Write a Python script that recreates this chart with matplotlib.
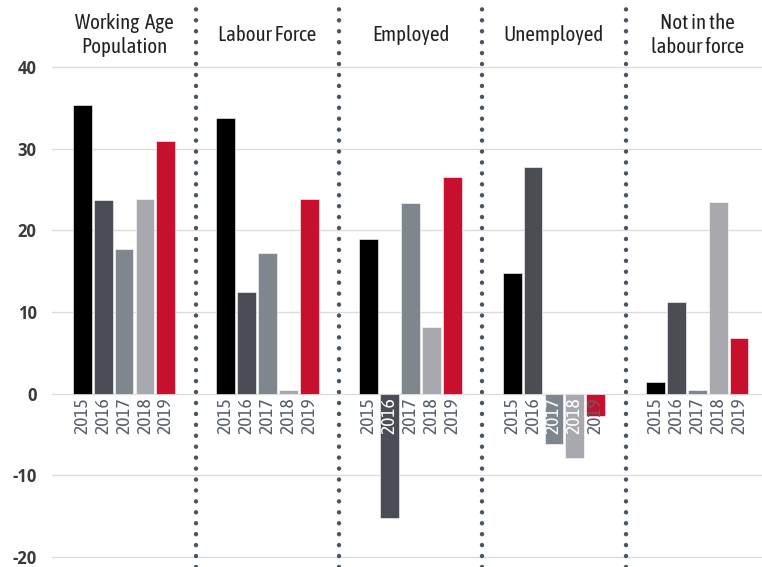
import matplotlib
matplotlib.use("Agg")
import matplotlib.pyplot as plt
from matplotlib import font_manager
import numpy as np

# data
groups = ['Working  Age\nPopulation', 'Labour Force', 'Employed', 'Unemployed', 'Not in the\nlabour force']
years = ['2015', '2016', '2017', '2018', '2019']
working_age = [35.3, 23.7, 17.7, 23.9, 31.0]
labour_force = [33.8, 12.5, 17.2, 0.5, 23.9]
employed = [18.9, -15.2, 23.3, 8.15, 26.5]
unemployed = [14.8, 27.7, -6.2, -7.8, -2.7]
not_in_lf = [1.5, 11.2, 0.45, 23.5, 6.85]
series = [working_age, labour_force, employed, unemployed, not_in_lf]

colors = ['#000000', '#4a4d55', '#80868e', '#a7a9af', '#c8102e']

# a condensed face is closest to the original, fall back if missing
names = {f.name for f in font_manager.fontManager.ttflist}
narrow = 'Roboto'
for fam in ['Asap Condensed', 'Open Sans Condensed', 'Roboto Condensed', 'Barlow Semi Condensed',
            'Liberation Sans Narrow']:
    if fam in names:
        narrow = fam
        break
tickfont = 'Open Sans' if 'Open Sans' in names else 'DejaVu Sans'

fig = plt.figure(figsize=(7.62, 5.67), dpi=100)
ax = fig.add_axes([52 / 762, 0, 1 - 52 / 762, 1])

stride = 6.86
for g, vals in enumerate(series):
    xs = g * stride + np.arange(len(vals))
    ax.bar(xs, vals, width=0.9, color=colors, edgecolor='white', linewidth=0.4, zorder=2)
    for x, v, yr in zip(xs, vals, years):
        col = 'white' if v < -5 else '#58606a'
        ax.text(x, -0.4, yr, rotation=90, ha='center', va='top', fontsize=14,
                family=narrow, color=col, zorder=3)
    ax.text(g * stride + 2, 43.9, groups[g], ha='center', va='center', fontsize=15,
            family=narrow, color='#222222', linespacing=1.25)
    if g > 0:
        ax.plot([g * stride - 1.43] * 2, [-21.2, 47.4], color='#4a5560', linewidth=3.2,
                linestyle=(0, (0.01, 2.45)), dash_capstyle='round', zorder=4, clip_on=False)

ax.set_xlim(-1.45, 4 * stride + 5.1)
ax.set_ylim(-21.2, 48.2)
ax.set_yticks([-20, -10, 0, 10, 20, 30, 40])
ax.set_yticklabels(['-20', '-10', '0', '10', '20', '30', '40'], fontweight='bold',
                   fontsize=12, color='#3a3a3a', family=tickfont)
ax.tick_params(axis='y', length=0, pad=11)
ax.set_xticks([])
for s in ax.spines.values():
    s.set_visible(False)
ax.grid(axis='y', color='#dcdcdc', linewidth=1.0, zorder=0)
ax.set_axisbelow(True)

fig.savefig('out.png', dpi=100)
